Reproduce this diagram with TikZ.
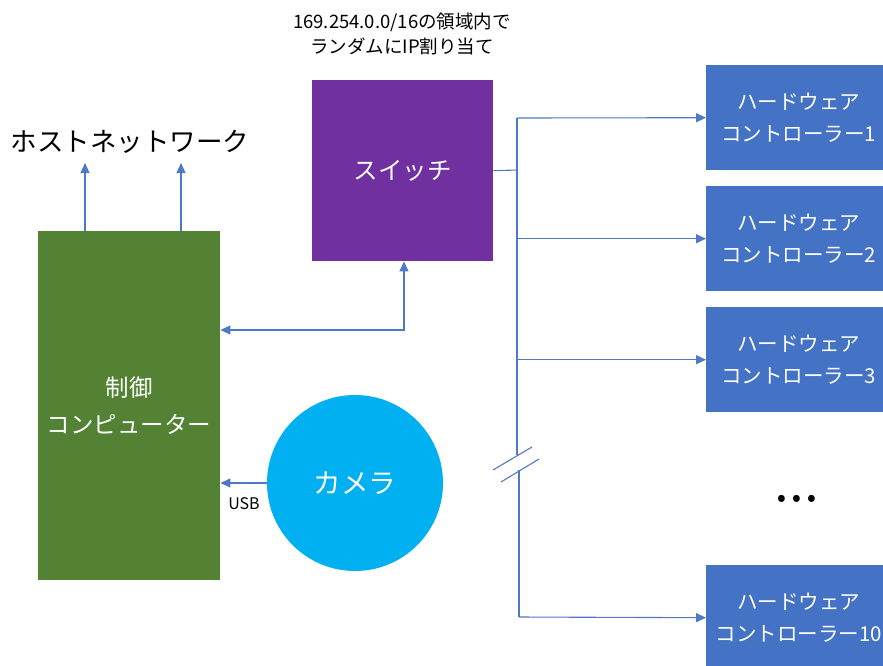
\documentclass[tikz,border=0pt]{standalone}
\usepackage{fontspec}
\setmainfont{Noto Sans CJK JP}
\usetikzlibrary{arrows.meta,calc}
\definecolor{ctrlgreen}{RGB}{84,130,53}
\definecolor{swpurple}{RGB}{112,48,160}
\definecolor{hwblue}{RGB}{68,114,196}
\definecolor{camblue}{RGB}{0,176,240}
\definecolor{linkblue}{RGB}{80,120,200}
\begin{document}
\begin{tikzpicture}[x=1pt,y=-1pt,
  fs/.style={font=\fontsize{#1pt}{1.55\dimexpr #1pt\relax}\selectfont},
  fsn/.style={font=\fontsize{#1pt}{1.35\dimexpr #1pt\relax}\selectfont},
  box/.style={rectangle,inner sep=0pt,text=white,align=center},
  hwbox/.style={box,fill=hwblue,minimum width=185pt,minimum height=105pt,fs=20.5,anchor=north west},
  link/.style={draw=linkblue,line width=1.1pt},
  arr/.style={link,-{Triangle[length=10pt,width=9pt]}},
  darr/.style={link,{Triangle[length=10pt,width=9pt]}-{Triangle[length=10pt,width=9pt]}},
  lbl/.style={text=black,align=center,inner sep=0pt}]
\useasboundingbox (0,0) rectangle (883,665);
\clip (0,0) rectangle (883,665);
\fill[white] (0,0) rectangle (883,665);

% boxes
\node[box,fill=ctrlgreen,minimum width=182pt,minimum height=349pt,anchor=north west,fs=23.5] (ctrl) at (38,231) {制御\\コンピューター};
\node[box,fill=swpurple,minimum width=181pt,minimum height=181pt,anchor=north west,fs=24.5] (sw) at (312,80) {スイッチ};
\node[circle,fill=camblue,minimum size=176pt,inner sep=0pt,text=white,fs=27.5] (cam) at (355,483) {カメラ};
\node[hwbox] (hw1) at (706,65) {ハードウェア\\コントローラー1};
\node[hwbox] (hw2) at (706,186) {ハードウェア\\コントローラー2};
\node[hwbox] (hw3) at (706,307) {ハードウェア\\コントローラー3};
\node[hwbox] (hw10) at (706,565) {ハードウェア\\コントローラー10};

% labels
\node[lbl,fs=26.5] (host) at (130,142) {ホストネットワーク};
\node[lbl,fsn=18.5] (note) at (402,34) {169.254.0.0/16の領域内で\\ランダムにIP割り当て};
\node[lbl,fs=16] (usb) at (244,504) {USB};
\node[lbl,fs=22] (dots) at (797,500) {\textbf{•\hspace{6pt}•\hspace{6pt}•}};

% host network arrows
\coordinate (h1) at (85,163);
\coordinate (h2) at (181,163);
\draw[arr] (ctrl.north -| h1) -- (h1);
\draw[arr] (ctrl.north -| h2) -- (h2);

% switch <-> control
\coordinate (corner) at (404,330);
\draw[darr] (sw.south -| corner) -- (corner) -- (ctrl.east |- corner);

% camera -> control
\draw[arr] (cam.west) -- (ctrl.east |- cam.west);

% switch bus
\coordinate (bus) at (517,170);
\coordinate (busTop) at (517,118);
\coordinate (busBrk) at (517,455);
\coordinate (busBrk2) at (519,470);
\coordinate (busBot) at (519,617);
\draw[link] (sw.east) -- (bus);
\draw[link] (busTop) -- (busBrk);
\draw[link] (busBrk2) -- (busBot);
\coordinate (b1a) at (493,470); \coordinate (b1b) at (532,447);
\coordinate (b2a) at (501,482); \coordinate (b2b) at (539,459);
\draw[link] (b1a) -- (b1b);
\draw[link] (b2a) -- (b2b);
\draw[arr] (busTop) -- (hw1.west);
\draw[arr] (bus |- hw2.west) -- (hw2.west);
\draw[arr] (bus |- hw3.west) -- (hw3.west);
\draw[arr] (busBot) -- (hw10.west);
\end{tikzpicture}
\end{document}
